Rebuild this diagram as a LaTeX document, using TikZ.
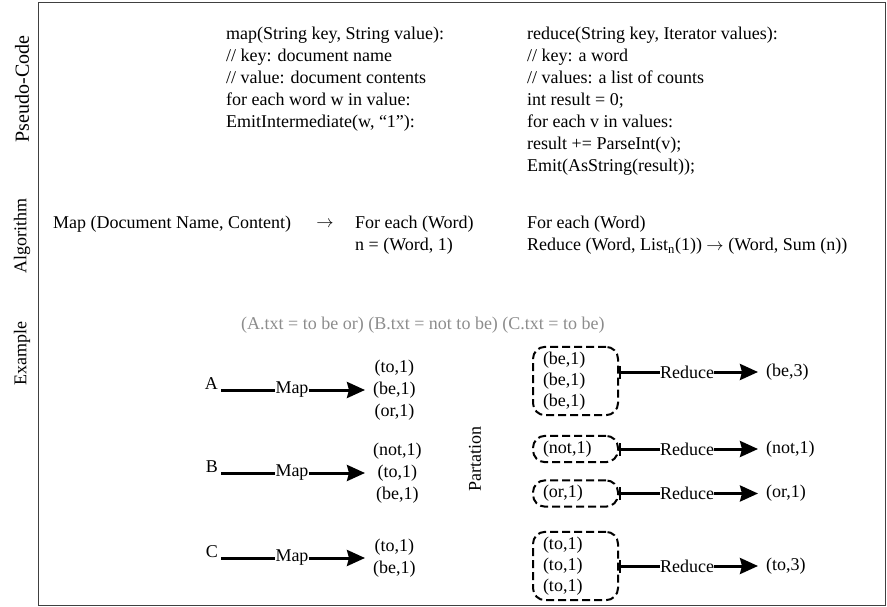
\documentclass[tikz,border=0pt]{standalone}
\usepackage{fontspec}
\setmainfont{Liberation Serif}
\usetikzlibrary{arrows.meta, positioning}

\begin{document}
\begin{tikzpicture}[x=1pt, y=-1pt,
    every node/.style={font=\fontsize{18}{22}\selectfont},
    code/.style={anchor=north west, align=left, inner sep=0pt},
    sidelabel/.style={rotate=90, inner sep=0pt},
    word/.style={inner sep=0pt},
    pairs/.style={align=center, inner ysep=0pt, inner xsep=8pt, anchor=west},
    group/.style={draw, dash pattern=on 8pt off 4pt, line width=2pt, rounded corners=12pt, align=left, text width=65pt, inner xsep=10pt, inner ysep=5pt, anchor=west, font=\fontsize{18}{21}\selectfont},
    link/.style={line width=3pt},
    arrow/.style={line width=3pt, -{Stealth[length=18pt, width=16pt, inset=2pt]}},
    barlink/.style={line width=3pt, {Bar[width=13pt, line width=2pt]}-}
]
\useasboundingbox (0,0) rectangle (887,607);
\draw[line width=1.5pt, black!75] (38.5,2.5) rectangle (885.5,605.5);

% row labels
\node[sidelabel, font=\fontsize{20}{22}\selectfont] (pseudolabel) at (22,89) {Pseudo-Code};
\node[sidelabel] (alglabel) at (22,236) {Algorithm};
\node[sidelabel] (exlabel) at (22,354) {Example};

% pseudo-code
\node[code] (mapcode) at (226,27) {map(String key, String value):\\
  // key: document name\\
  // value: document contents\\
  for each word w in value:\\
  EmitIntermediate(w, “1”):};
\node[code] (reducecode) at (527,27) {reduce(String key, Iterator values):\\
  // key: a word\\
  // values: a list of counts\\
  int result = 0;\\
  for each v in values:\\
  result += ParseInt(v);\\
  Emit(AsString(result));};

% algorithm
\node[word, anchor=west] (mapalg) at (53,224) {Map (Document Name, Content)};
\node[word] (algarrow) at (325,224) {$\rightarrow$};
\node[code] (mapstep) at (355,216) {For each (Word)\\n = (Word, 1)};
\node[code] (reducestep) at (527,216) {For each (Word)\\Reduce (Word, List\textsubscript{n}(1)) $\rightarrow$ (Word, Sum (n))};

% example
\node[word, anchor=west, text=black!45] (files) at (241,325) {(A.txt = to be or) (B.txt = not to be) (C.txt = to be)};

\node[word, inner xsep=3pt, anchor=south east] (docA) at (221,390) {A};
\node[word] (mapA) at (292,390) {Map};
\node[pairs] (outA) at (365,390) {(to,1)\\(be,1)\\(or,1)};
\node[word, inner xsep=3pt, anchor=south east] (docB) at (221,473) {B};
\node[word] (mapB) at (292,473) {Map};
\node[pairs] (outB) at (365,473) {(not,1)\\(to,1)\\(be,1)};
\node[word, inner xsep=3pt, anchor=south east] (docC) at (221,558) {C};
\node[word] (mapC) at (292,558) {Map};
\node[pairs] (outC) at (365,558) {(to,1)\\(be,1)};

\draw[link] (docA.south east) -- (mapA.west);
\draw[arrow] (mapA.east) -- (outA.west);
\draw[link] (docB.south east) -- (mapB.west);
\draw[arrow] (mapB.east) -- (outB.west);
\draw[link] (docC.south east) -- (mapC.west);
\draw[arrow] (mapC.east) -- (outC.west);

\node[sidelabel] (partlabel) at (475,459) {Partation};

\node[group] (beGrp) at (532,381) {(be,1)\\(be,1)\\(be,1)};
\node[group] (notGrp) at (532,449) {(not,1)};
\node[group] (orGrp) at (532,493.5) {(or,1)};
\node[group] (toGrp) at (532,566) {(to,1)\\(to,1)\\(to,1)};

\node[word] (redBe) at (687,372) {Reduce};
\node[word] (redNot) at (687,449) {Reduce};
\node[word] (redOr) at (687,493.5) {Reduce};
\node[word] (redTo) at (687,566) {Reduce};

\node[pairs] (sumBe) at (758,372) {(be,3)};
\node[pairs] (sumNot) at (758,449) {(not,1)};
\node[pairs] (sumOr) at (758,493.5) {(or,1)};
\node[pairs] (sumTo) at (758,566) {(to,3)};

\draw[barlink] ([yshift=9pt]beGrp.east) -- (redBe.west);
\draw[barlink] (notGrp.east) -- (redNot.west);
\draw[barlink] (orGrp.east) -- (redOr.west);
\draw[barlink] (toGrp.east) -- (redTo.west);
\draw[arrow] (redBe.east) -- (sumBe.west);
\draw[arrow] (redNot.east) -- (sumNot.west);
\draw[arrow] (redOr.east) -- (sumOr.west);
\draw[arrow] (redTo.east) -- (sumTo.west);
\end{tikzpicture}
\end{document}
